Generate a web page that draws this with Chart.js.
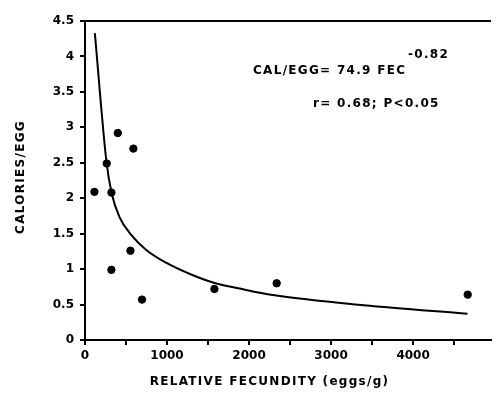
<!DOCTYPE html>
<html>
<head>
<meta charset="utf-8">
<script src="https://cdn.jsdelivr.net/npm/chart.js@4.4.1/dist/chart.umd.min.js"></script>
<style>
  html, body { margin: 0; padding: 0; background: #fff; }
  canvas { display: block; }
</style>
</head>
<body>
<canvas id="chart" width="496" height="396"></canvas>
<script>
// observed points: relative fecundity (eggs/g) vs calories per egg
const fecundity = [115, 265, 322, 400, 590, 322, 554, 695, 1578, 2337, 4666];
const calPerEgg = [2.09, 2.49, 2.08, 2.92, 2.70, 0.99, 1.26, 0.57, 0.72, 0.80, 0.64];

// fitted curve
const curveFec = [120, 261, 325, 422, 566, 747, 988, 1301, 1590, 1867, 2313, 3398, 4663];
const curveCal = [4.33, 2.52, 2.07, 1.73, 1.48, 1.27, 1.09, 0.92, 0.80, 0.73, 0.63, 0.49, 0.37];

const xTicks = [0, 500, 1000, 1500, 2000, 2500, 3000, 3500, 4000, 4500];
const xLabeled = [0, 1000, 2000, 3000, 4000];

const xTitle = 'RELATIVE FECUNDITY (eggs/g)';
const yTitle = 'CALORIES/EGG';
const eqText = 'CAL/EGG= 74.9 FEC';
const eqExp = '-0.82';
const statText = 'r= 0.68; P<0.05';

const FONT = '"DejaVu Sans", sans-serif';

const textPlugin = {
    id: 'textPlugin',
    afterDraw(chart) {
        const ctx = chart.ctx;
        const area = chart.chartArea;
        const x = chart.scales.x;
        const y = chart.scales.y;
        ctx.save();
        // top frame line
        ctx.strokeStyle = '#000';
        ctx.lineWidth = 2;
        ctx.beginPath();
        ctx.moveTo(area.left, area.top);
        ctx.lineTo(area.right, area.top);
        ctx.stroke();

        ctx.fillStyle = '#000';
        ctx.textBaseline = 'middle';
        ctx.font = 'bold 12px ' + FONT;
        ctx.letterSpacing = '1.3px';
        ctx.textAlign = 'left';
        ctx.fillText(eqText, 253, 71);
        ctx.fillText(eqExp, 408, 55);
        ctx.fillText(statText, 313, 104);

        ctx.textAlign = 'center';
        ctx.fillText(xTitle, x.getPixelForValue(2250), 382);

        ctx.translate(21, y.getPixelForValue(2.3));
        ctx.rotate(-Math.PI / 2);
        ctx.fillText(yTitle, 0, 0);
        ctx.restore();
    }
};

new Chart(document.getElementById('chart'), {
    data: {
        datasets: [
            {
                type: 'line',
                data: curveFec.map((v, i) => ({ x: v, y: curveCal[i] })),
                borderColor: '#000',
                borderWidth: 2,
                pointRadius: 0,
                cubicInterpolationMode: 'monotone',
                fill: false
            },
            {
                type: 'scatter',
                data: fecundity.map((v, i) => ({ x: v, y: calPerEgg[i] })),
                backgroundColor: '#000',
                borderColor: '#000',
                pointRadius: 3.7
            }
        ]
    },
    options: {
        responsive: false,
        animation: false,
        devicePixelRatio: 1,
        layout: { padding: { top: 21, right: 0, bottom: 0, left: 0 } },
        plugins: {
            legend: { display: false },
            tooltip: { enabled: false }
        },
        scales: {
            x: {
                type: 'linear',
                min: 0,
                max: 4950,
                afterBuildTicks: scale => {
                    scale.ticks = xTicks.map(v => ({ value: v }));
                },
                afterFit: scale => { scale.height = 56; },
                ticks: {
                    autoSkip: false,
                    maxRotation: 0,
                    padding: 4,
                    color: '#000',
                    font: { family: FONT, size: 12, weight: 'bold' },
                    callback: v => (xLabeled.includes(v) ? String(v) : '')
                },
                grid: { drawOnChartArea: false, drawTicks: true, tickLength: 5, color: '#000', lineWidth: 2 },
                border: { color: '#000', width: 2 }
            },
            y: {
                min: 0,
                max: 4.5,
                afterFit: scale => { scale.width = 85; },
                ticks: {
                    stepSize: 0.5,
                    padding: 6,
                    color: '#000',
                    font: { family: FONT, size: 12, weight: 'bold' },
                    callback: v => String(+v.toFixed(1))
                },
                grid: { drawOnChartArea: false, drawTicks: true, tickLength: 5, color: '#000', lineWidth: 2 },
                border: { color: '#000', width: 2 }
            }
        }
    },
    plugins: [textPlugin]
});
</script>
</body>
</html>
